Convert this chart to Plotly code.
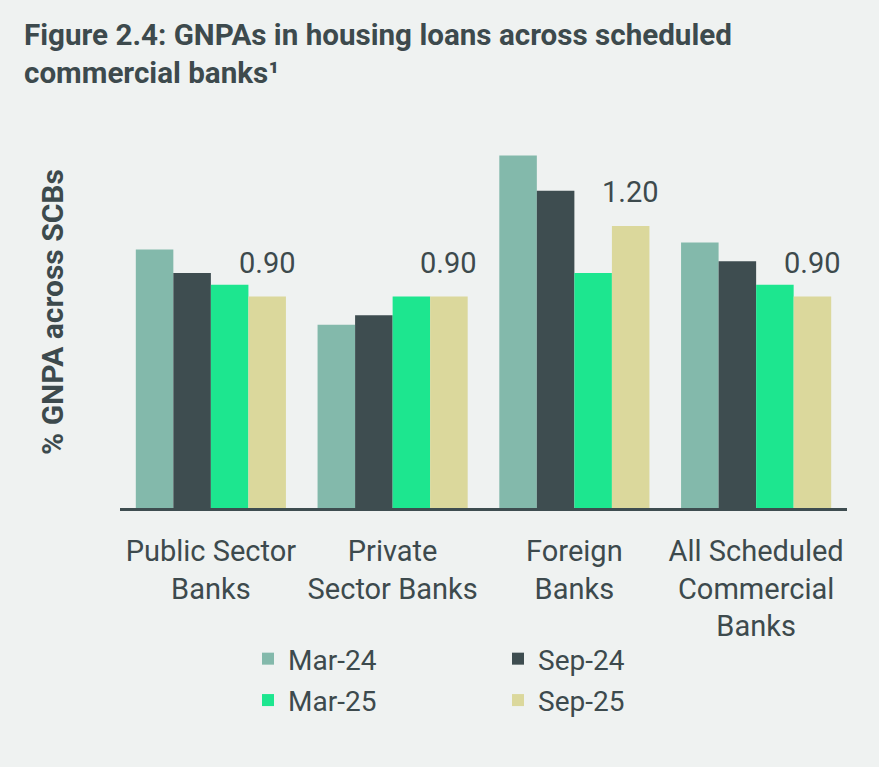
import plotly.graph_objects as go

categories = ["Public Sector<br>Banks", "Private<br>Sector Banks", "Foreign<br>Banks",
              "All Scheduled<br>Commercial<br>Banks"]
series_names = ["Mar-24", "Sep-24", "Mar-25", "Sep-25"]
mar24 = [1.10, 0.78, 1.50, 1.13]
sep24 = [1.00, 0.82, 1.35, 1.05]
mar25 = [0.95, 0.90, 1.00, 0.95]
sep25 = [0.90, 0.90, 1.20, 0.90]
series_values = [mar24, sep24, mar25, sep25]
colors = ["#83b9ab", "#3e4d50", "#1de68f", "#dbd89c"]
legend_ids = ["legend", "legend2", "legend", "legend2"]

BG = "#eff2f1"
TXT = "#3d4a4d"
FONT = "Roboto"

W, H = 879, 767
ML, MR, MT, MB = 120, 32, 132, 259
BARGAP = 0.174
plot_w = W - ML - MR
plot_h = H - MT - MB

fig = go.Figure()
for name, vals, col, lg in zip(series_names, series_values, colors, legend_ids):
    fig.add_trace(go.Bar(
        x=categories, y=vals, name=name, marker_color=col,
        marker_line_width=0, legend=lg, legendgroup=name,
    ))

# data labels on the latest series
bar_px = plot_w / len(categories) * (1 - BARGAP) / len(series_names)
shift = bar_px * 1.5
for c, v in zip(categories, sep25):
    fig.add_annotation(x=c, y=v, xref="x", yref="y", text=f"{v:.2f}",
                       showarrow=False, xshift=shift, yshift=15, yanchor="bottom",
                       font=dict(family=FONT, size=29, color=TXT))

# y-axis title
fig.add_annotation(x=(52 - ML) / plot_w, y=(H - MB - 312) / plot_h, xref="paper", yref="paper",
                   xanchor="center", yanchor="middle",
                   text="<b>% GNPA across SCBs</b>", textangle=-90, showarrow=False,
                   font=dict(family=FONT, size=30, color=TXT))

# chart title
fig.add_annotation(x=(22 - ML) / plot_w, y=1 + (MT - 16) / plot_h, xref="paper", yref="paper",
                   xanchor="left", yanchor="top", align="left", showarrow=False,
                   text="<b>Figure 2.4: GNPAs in housing loans across scheduled<br>commercial banks¹</b>",
                   font=dict(family=FONT, size=29.6, color=TXT))

fig.update_layout(
    width=W, height=H,
    margin=dict(l=ML, r=MR, t=MT, b=MB),
    paper_bgcolor=BG, plot_bgcolor=BG,
    barmode="group", bargap=BARGAP, bargroupgap=0,
    xaxis=dict(showline=True, linecolor="#3e4d50", linewidth=3, showgrid=False,
               ticks="", tickfont=dict(family=FONT, size=29, color=TXT),
               ticklabelstandoff=15, fixedrange=True),
    yaxis=dict(range=[0, 1.6], visible=False, showgrid=False, zeroline=False),
    legend=dict(x=(248 - ML) / plot_w, xanchor="left", y=-0.335, yanchor="top",
                orientation="v", bgcolor="rgba(0,0,0,0)", tracegroupgap=2,
                font=dict(family=FONT, size=28, color=TXT)),
    legend2=dict(x=(498 - ML) / plot_w, xanchor="left", y=-0.335, yanchor="top",
                 orientation="v", bgcolor="rgba(0,0,0,0)", tracegroupgap=2,
                 font=dict(family=FONT, size=28, color=TXT)),
    showlegend=True,
)

fig.write_html("out.html")
